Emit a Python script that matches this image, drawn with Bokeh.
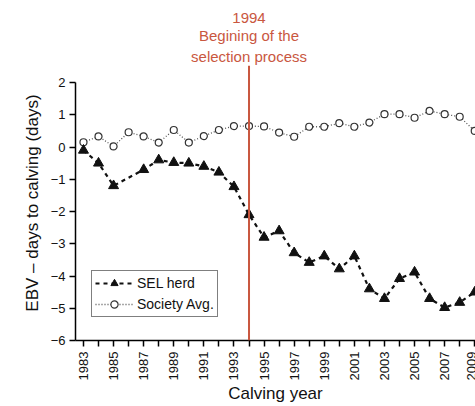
from bokeh.plotting import figure
from bokeh.models import FixedTicker, Span, Title, Legend, LegendItem
from bokeh.embed import file_html
from bokeh.resources import INLINE

# ---- data ----
years_sel = [1983, 1984, 1985, 1987, 1988, 1989, 1990, 1991, 1992, 1993, 1994,
             1995, 1996, 1997, 1998, 1999, 2000, 2001, 2002, 2003, 2004, 2005,
             2006, 2007, 2008, 2009]
sel_herd = [-0.1, -0.5, -1.2, -0.7, -0.4, -0.48, -0.5, -0.6, -0.78, -1.23, -2.1,
            -2.8, -2.6, -3.28, -3.58, -3.38, -3.78, -3.38, -4.4, -4.7, -4.08, -3.88,
            -4.7, -4.98, -4.82, -4.5]
years_soc = list(range(1983, 2010))
society_avg = [0.15, 0.33, 0.02, 0.46, 0.33, 0.14, 0.53, 0.14, 0.34, 0.53, 0.65,
               0.65, 0.64, 0.45, 0.32, 0.63, 0.63, 0.74, 0.63, 0.76, 1.02, 1.02,
               0.91, 1.12, 1.02, 0.94, 0.5]
x_major_ticks = list(range(1983, 2010, 2))
x_minor_ticks = list(range(1984, 2010, 2))
y_ticks = [-6, -5, -4, -3, -2, -1, 0, 1, 2]
selection_year = 1994
annotation_lines = ["1994", "Begining of the", "selection process"]

FONT = "Liberation Sans"
RED = "#c9573f"

p = figure(width=475, height=406, x_range=(1982.47, 2009.05), y_range=(-6, 2.53),
           output_backend="svg", toolbar_location=None, title=None,
           min_border_left=75, min_border_top=65, min_border_right=0, min_border_bottom=66)
p.outline_line_color = None
p.xgrid.visible = False
p.ygrid.visible = False

# axes
xa = p.xaxis[0]
xa.ticker = FixedTicker(ticks=x_major_ticks, minor_ticks=x_minor_ticks)
xa.major_label_orientation = 3.14159265 / 2
xa.axis_label = "Calving year"
ya = p.yaxis[0]
ya.ticker = FixedTicker(ticks=y_ticks)
ya.bounds = (-6, 2)
ya.major_label_overrides = {t: (str(t).replace("-", "\u2212")) for t in y_ticks}
ya.axis_label = "EBV \u2013 days to calving (days)"
for ax in (xa, ya):
    ax.axis_line_color = "black"
    ax.axis_line_width = 1.5
    ax.major_tick_line_color = "black"
    ax.major_tick_line_width = 1.5
    ax.minor_tick_line_color = "black"
    ax.minor_tick_line_width = 1.5
    ax.major_tick_in = 0
    ax.major_tick_out = 6
    ax.minor_tick_in = 0
    ax.minor_tick_out = 6
    ax.major_label_text_font = FONT
    ax.major_label_text_font_size = "13px"
    ax.major_label_text_color = "#111111"
    ax.major_label_standoff = 4
    ax.axis_label_text_font = FONT
    ax.axis_label_text_font_size = "17px"
    ax.axis_label_text_font_style = "normal"
    ax.axis_label_text_color = "#111111"
    ax.axis_label_standoff = 6
ya.minor_tick_out = 0
xa.major_label_standoff = 5
xa.axis_label_standoff = 1

# selection line
p.add_layout(Span(location=selection_year, dimension="height", line_color=RED, line_width=2))

# series
soc_line = p.line(years_soc, society_avg, line_color="#555555", line_width=1.3, line_dash="1 2")
soc_pts = p.scatter(years_soc, society_avg, marker="circle", size=7, fill_color="white",
                    line_color="#333333", line_width=1.2)
sel_line = p.line(years_sel, sel_herd, line_color="#111111", line_width=2.2, line_dash="4 4")
sel_pts = p.scatter(years_sel, sel_herd, marker="triangle", size=10, fill_color="#111111",
                    line_color="#111111")

legend = Legend(items=[LegendItem(label="SEL herd", renderers=[sel_line, sel_pts]),
                       LegendItem(label="Society Avg.", renderers=[soc_line, soc_pts])],
                location=(16, 23), margin=0, padding=3, spacing=3,
                glyph_width=38, glyph_height=18, label_height=18, label_standoff=4,
                label_text_font=FONT, label_text_font_size="14px", label_text_color="#111111",
                border_line_color="black", border_line_width=1.2,
                background_fill_color="white", background_fill_alpha=1)
p.add_layout(legend)

# annotation text above the plot, centred on the selection year (left-aligned titles with
# offsets estimated from text widths at 15px Liberation Sans)
char_w = {"1": .556, "9": .556, "4": .556, "B": .667, "e": .556, "g": .556, "i": .222,
          "n": .556, "o": .556, "f": .278, " ": .278, "t": .278, "h": .556, "s": .5,
          "l": .222, "c": .5, "p": .556, "r": .333}
x_px_per_year = 400 / (2009.05 - 1982.47)
center_px = (selection_year - 1982.47) * x_px_per_year
for txt in reversed(annotation_lines):
    w = sum(char_w.get(ch, .556) for ch in txt) * 15
    p.add_layout(Title(text=txt, align="left", offset=center_px - w / 2,
                       text_font=FONT, text_font_size="15px", text_font_style="normal",
                       text_color=RED, standoff=2), "above")

open("out.html", "w").write(file_html(p, INLINE))
